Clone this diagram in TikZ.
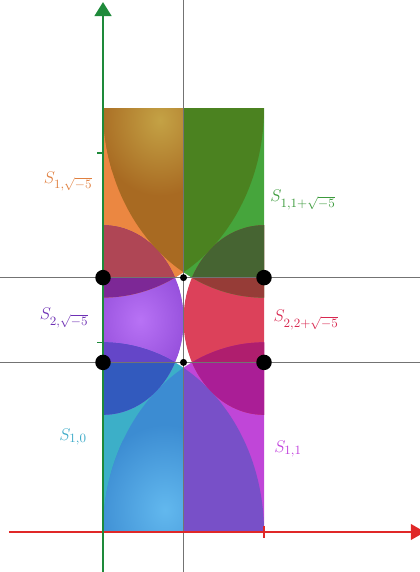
\documentclass[tikz,border=0pt]{standalone}
\usepackage{amsmath,amssymb}
\usetikzlibrary{arrows.meta}
\usepackage{xcolor}
\definecolor{axisgreen}{HTML}{1E8A3A}
\definecolor{axisred}{HTML}{E02828}
\definecolor{cyanA}{HTML}{3CAFC8}
\definecolor{blueAB}{HTML}{3C8CD2}
\definecolor{hlAB}{HTML}{62B8EE}
\definecolor{purpBA}{HTML}{7850C8}
\definecolor{magB}{HTML}{C046D8}
\definecolor{dkblueAC}{HTML}{325ABE}
\definecolor{bluepurpCA}{HTML}{6446C8}
\definecolor{purpC}{HTML}{9650DC}
\definecolor{hlC}{HTML}{B872F5}
\definecolor{dkpurpCE}{HTML}{7D2896}
\definecolor{brickEC}{HTML}{AF4655}
\definecolor{orangeE}{HTML}{EB8741}
\definecolor{brownEF}{HTML}{A86A22}
\definecolor{hlEF}{HTML}{C4A245}
\definecolor{dkgreenFE}{HTML}{4B8220}
\definecolor{greenF}{HTML}{46A53C}
\definecolor{dkgreenFD}{HTML}{466432}
\definecolor{redDF}{HTML}{963C37}
\definecolor{redD}{HTML}{DC415A}
\definecolor{dkmagDB}{HTML}{AF1E6E}
\definecolor{magBD}{HTML}{AA1E96}
\definecolor{lblE}{HTML}{E08040}
\definecolor{lblF}{HTML}{3C9A3C}
\definecolor{lblC}{HTML}{6E30B4}
\definecolor{lblD}{HTML}{D82850}
\definecolor{lblA}{HTML}{3CAAC8}
\definecolor{lblB}{HTML}{C040DC}

% the six discs S_{mu,lambda}
\newcommand{\diskA}{(0,0) circle (1)}
\newcommand{\diskB}{(1,0) circle (1)}
\newcommand{\diskC}{(0,1.1180) circle (0.5)}
\newcommand{\diskD}{(1,1.1180) circle (0.5)}
\newcommand{\diskE}{(0,2.2361) circle (1)}
\newcommand{\diskF}{(1,2.2361) circle (1)}

\begin{document}
\begin{tikzpicture}[x=4.025cm, y=4.74cm, >=Stealth,
  axis/.style={line width=1.6pt},
  guide/.style={gray!90!black, line width=1.1pt},
  bigdot/.style={circle, fill=black, inner sep=0pt, minimum size=11pt},
  smalldot/.style={circle, fill=black, inner sep=0pt, minimum size=5pt},
  lbl/.style={font=\fontsize{13}{15}\selectfont}]
  \useasboundingbox (-0.6398,-0.211) rectangle (1.9689,2.8059);

  % left half of the strip
  \begin{scope}
    \clip (0,0) rectangle (0.5,2.2361);
    \fill[cyanA] \diskA;
    \fill[purpC] \diskC;
    \begin{scope}
      \clip \diskC;
      \shade[inner color=hlC, outer color=purpC] (0.23,1.118) circle (0.3);
    \end{scope}
    \fill[orangeE] \diskE;
    \begin{scope}
      \clip \diskB;
      \fill[blueAB] \diskA;
      \clip \diskA;
      \shade[inner color=hlAB, outer color=blueAB] (0.385,0.116) circle (0.45);
    \end{scope}
    \begin{scope}
      \clip \diskA;
      \fill[dkblueAC] \diskC;
      \clip (0,0.8944) rectangle (1,2);
      \fill[bluepurpCA] \diskC;
    \end{scope}
    \begin{scope}
      \clip \diskE;
      \fill[dkpurpCE] \diskC;
      \clip (0,1.3416) rectangle (1,2.3);
      \fill[brickEC] \diskC;
    \end{scope}
    \begin{scope}
      \clip \diskF;
      \fill[brownEF] \diskE;
      \clip \diskE;
      \shade[inner color=hlEF, outer color=brownEF] (0.354,2.173) circle (0.4);
    \end{scope}
  \end{scope}

  % right half of the strip
  \begin{scope}
    \clip (0.5,0) rectangle (1,2.2361);
    \fill[magB] \diskB;
    \fill[redD] \diskD;
    \fill[greenF] \diskF;
    \begin{scope}
      \clip \diskA;
      \fill[purpBA] \diskB;
    \end{scope}
    \begin{scope}
      \clip \diskB;
      \fill[magBD] \diskD;
      \clip (0,0.8944) rectangle (1,2);
      \fill[dkmagDB] \diskD;
    \end{scope}
    \begin{scope}
      \clip \diskF;
      \fill[redDF] \diskD;
      \clip (0,1.3416) rectangle (1,2.3);
      \fill[dkgreenFD] \diskD;
    \end{scope}
    \begin{scope}
      \clip \diskE;
      \fill[dkgreenFE] \diskF;
    \end{scope}
  \end{scope}

  % radical axes
  \coordinate (vtop) at (0.5,2.8059);
  \coordinate (vbot) at (0.5,-0.211);
  \coordinate (hlo-l) at (-0.6398,0.8944);
  \coordinate (hlo-r) at (1.9689,0.8944);
  \coordinate (hhi-l) at (-0.6398,1.3416);
  \coordinate (hhi-r) at (1.9689,1.3416);
  \draw[guide] (vbot) -- (vtop);
  \draw[guide] (hlo-l) -- (hlo-r);
  \draw[guide] (hhi-l) -- (hhi-r);

  % axes
  \coordinate (xstart) at (-0.584,0);
  \coordinate (xend) at (2.0,0);
  \coordinate (ystart) at (0,-0.211);
  \coordinate (yend) at (0,2.795);
  \draw[axis, axisred, -{Triangle[length=10pt,width=11pt]}] (xstart) -- (xend);
  \draw[axis, axisgreen, -{Triangle[length=10pt,width=12pt]}] (ystart) -- (yend);
  \draw[axisgreen, line width=1.1pt] (0,1) -- ++(-0.035,0);
  \draw[axisgreen, line width=1.1pt] (0,2) -- ++(-0.035,0);
  \draw[axisred, line width=1.1pt] (1,-0.03) -- ++(0,0.06);

  % singular points
  \node[bigdot] (p1) at (0,1.3416) {};
  \node[bigdot] (p2) at (1,1.3416) {};
  \node[bigdot] (p3) at (0,0.8944) {};
  \node[bigdot] (p4) at (1,0.8944) {};
  \node[smalldot] (q1) at (0.5,1.3416) {};
  \node[smalldot] (q2) at (0.5,0.8944) {};

  % labels
  \node[lbl, text=lblE] (lE) at (-0.217,1.851) {$S_{1,\sqrt{-5}}$};
  \node[lbl, text=lblF] (lF) at (1.242,1.751) {$S_{1,1+\sqrt{-5}}$};
  \node[lbl, text=lblC] (lC) at (-0.242,1.129) {$S_{2,\sqrt{-5}}$};
  \node[lbl, text=lblD] (lD) at (1.261,1.118) {$S_{2,2+\sqrt{-5}}$};
  \node[lbl, text=lblA] (lA) at (-0.186,0.501) {$S_{1,0}$};
  \node[lbl, text=lblB] (lB) at (1.149,0.438) {$S_{1,1}$};
\end{tikzpicture}
\end{document}
